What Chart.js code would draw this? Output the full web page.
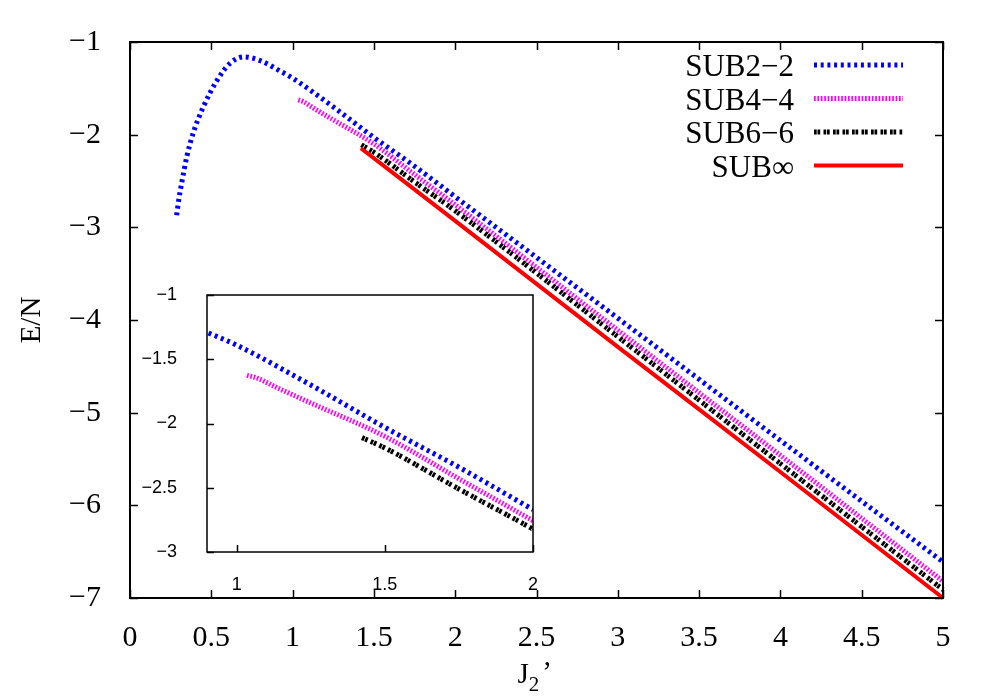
<!DOCTYPE html>
<html>
<head>
<meta charset="utf-8">
<script src="https://cdn.jsdelivr.net/npm/chart.js@4.4.1/dist/chart.umd.min.js"></script>
<style>
    body { margin: 0; background: #fff; }
    #contenedor { position: relative; width: 1000px; height: 700px; }
    #contenedor canvas { position: absolute; left: 0; top: 0; }
</style>
</head>
<body>
<div id="contenedor">
    <canvas id="graficoPrincipal" width="1000" height="700"></canvas>
    <canvas id="graficoInset" width="1000" height="700"></canvas>
</div>
<script>
// ticks
var ticksX = [0, 0.5, 1, 1.5, 2, 2.5, 3, 3.5, 4, 4.5, 5];
var ticksY = [-7, -6, -5, -4, -3, -2, -1];
var ticksXInset = [1, 1.5, 2];
var ticksYInset = [-3, -2.5, -2, -1.5, -1];

var etiquetas = ['SUB2\u22122', 'SUB4\u22124', 'SUB6\u22126', 'SUB\u221e'];

// valores (J2', E/N)
var j22 = [0.287, 0.30, 0.318, 0.349, 0.389, 0.451, 0.533, 0.615, 0.70, 0.80, 0.92, 1.0, 1.25, 1.5, 1.75, 2.0, 3.0, 4.0, 5.0];
var e22 = [-2.87, -2.70, -2.52, -2.24, -1.98, -1.70, -1.42, -1.23, -1.16, -1.20, -1.31, -1.39, -1.70, -2.03, -2.34, -2.67, -3.98, -5.30, -6.61];
var j44 = [1.035, 1.068, 1.135, 1.25, 1.5, 1.75, 2.0, 3.0, 4.0, 5.0];
var e44 = [-1.625, -1.646, -1.72, -1.84, -2.10, -2.43, -2.757, -4.11, -5.46, -6.82];
var j66 = [1.423, 1.5, 1.75, 2.0, 3.0, 4.0, 5.0];
var e66 = [-2.11, -2.19, -2.51, -2.822, -4.18, -5.55, -6.91];
var jInf = [1.42, 2.0, 3.0, 4.0, 5.0];
var eInf = [-2.147, -2.93, -4.29, -5.64, -7.0];

var estilos = [
    { color: '#0000ff', dash: [3, 3.7], ancho: 5, orden: 3 },
    { color: '#ff00ff', dash: [1.7, 1.7], ancho: 5, orden: 2 },
    { color: '#000000', dash: [2.7, 0.8, 2.7, 3.3], ancho: 5, orden: 1 },
    { color: '#ff0000', dash: [], ancho: 4, orden: 0 }
];

function puntos(xs, ys) {
    return xs.map(function (x, i) { return { x: x, y: ys[i] }; });
}

function serie(i, xs, ys, clip) {
    var e = estilos[i];
    return {
        label: etiquetas[i],
        data: puntos(xs, ys),
        borderColor: e.color,
        borderWidth: e.ancho,
        borderDash: e.dash,
        borderCapStyle: 'butt',
        cubicInterpolationMode: 'monotone',
        pointRadius: 0,
        fill: false,
        order: e.orden,
        clip: clip
    };
}

function formato(v) {
    return String(v).replace('-', '\u2212');
}

// marco y ticks hacia adentro
var marcoPlugin = {
    id: 'marco',
    beforeDraw: function (chart, args, opts) {
        if (!opts.fondo) return;
        var a = chart.chartArea, ctx = chart.ctx;
        ctx.save();
        ctx.fillStyle = '#fff';
        ctx.fillRect(a.left, a.top, a.right - a.left, a.bottom - a.top);
        ctx.restore();
    },
    afterDraw: function (chart, args, opts) {
        var ctx = chart.ctx, a = chart.chartArea;
        var xs = chart.scales.x, ys = chart.scales.y;
        ctx.save();
        ctx.strokeStyle = '#000';
        ctx.lineWidth = opts.grosor;
        ctx.strokeRect(a.left, a.top, a.right - a.left, a.bottom - a.top);
        ctx.lineWidth = 1.5;
        ctx.beginPath();
        xs.ticks.forEach(function (t) {
            var px = Math.round(xs.getPixelForValue(t.value)) + 0.5;
            ctx.moveTo(px, a.bottom); ctx.lineTo(px, a.bottom - opts.tick);
            if (opts.espejo) { ctx.moveTo(px, a.top); ctx.lineTo(px, a.top + opts.tick); }
        });
        ys.ticks.forEach(function (t) {
            var py = Math.round(ys.getPixelForValue(t.value)) + 0.5;
            ctx.moveTo(a.left, py); ctx.lineTo(a.left + opts.tick, py);
            if (opts.espejo) { ctx.moveTo(a.right, py); ctx.lineTo(a.right - opts.tick, py); }
        });
        ctx.stroke();
        ctx.restore();
    }
};

var leyendaPlugin = {
    id: 'leyenda',
    afterDraw: function (chart) {
        var ctx = chart.ctx, a = chart.chartArea;
        ctx.save();
        ctx.font = '31px "Liberation Serif"';
        ctx.textAlign = 'right';
        ctx.textBaseline = 'middle';
        chart.data.datasets.forEach(function (ds, i) {
            var y = a.top + 23 + i * 33.5;
            ctx.fillStyle = '#000';
            ctx.fillText(ds.label, a.right - 149, y + 3);
            ctx.strokeStyle = ds.borderColor;
            ctx.lineWidth = ds.borderWidth;
            ctx.lineCap = 'butt';
            ctx.setLineDash(ds.borderDash);
            ctx.beginPath();
            ctx.moveTo(a.right - 129, y);
            ctx.lineTo(a.right - 40, y);
            ctx.stroke();
        });
        ctx.restore();
    }
};

var titulosPlugin = {
    id: 'titulos',
    afterDraw: function (chart) {
        var ctx = chart.ctx, a = chart.chartArea;
        var cx = (a.left + a.right) / 2;
        ctx.save();
        ctx.fillStyle = '#000';
        ctx.font = '29px "Liberation Serif"';
        ctx.textBaseline = 'alphabetic';
        // J2'
        ctx.textAlign = 'left';
        var wJ = ctx.measureText('J').width;
        ctx.fillText('J', cx - 19, 683);
        ctx.font = '21px "Liberation Serif"';
        ctx.fillText('2', cx - 19 + wJ, 691);
        var w2 = ctx.measureText('2').width;
        ctx.font = '29px "Liberation Serif"';
        ctx.fillText('\u2019', cx - 16 + wJ + w2, 681);
        // E/N
        ctx.translate(40, (a.top + a.bottom) / 2);
        ctx.rotate(-Math.PI / 2);
        ctx.textAlign = 'center';
        ctx.fillText('E/N', 0, 0);
        ctx.restore();
    }
};

new Chart(document.getElementById('graficoPrincipal'), {
    type: 'line',
    data: {
        datasets: [
            serie(0, j22, e22, 2),
            serie(1, j44, e44, 2),
            serie(2, j66, e66, 2),
            serie(3, jInf, eInf, 2)
        ]
    },
    options: {
        responsive: false,
        animation: false,
        events: [],
        layout: { padding: { left: 0, top: 42, right: 57, bottom: 0 } },
        plugins: {
            legend: { display: false },
            tooltip: { enabled: false },
            marco: { grosor: 2, tick: 8, espejo: true }
        },
        scales: {
            x: {
                type: 'linear', min: 0, max: 5,
                grid: { display: false }, border: { display: false },
                afterFit: function (s) { s.height = 102; },
                afterBuildTicks: function (s) { s.ticks = ticksX.map(function (v) { return { value: v }; }); },
                ticks: { color: '#000', font: { family: 'Liberation Serif', size: 30 }, padding: 14, maxRotation: 0, autoSkip: false, callback: formato }
            },
            y: {
                type: 'linear', min: -7, max: -1,
                grid: { display: false }, border: { display: false },
                afterFit: function (s) { s.width = 130; },
                afterBuildTicks: function (s) { s.ticks = ticksY.map(function (v) { return { value: v }; }); },
                ticks: { color: '#000', font: { family: 'Liberation Serif', size: 30 }, padding: 21, autoSkip: false, callback: formato }
            }
        }
    },
    plugins: [marcoPlugin, leyendaPlugin, titulosPlugin]
});

// grafico interior
new Chart(document.getElementById('graficoInset'), {
    type: 'line',
    data: {
        datasets: [
            serie(0, j22, e22, 0),
            serie(1, j44, e44, 0),
            serie(2, j66, e66, 0)
        ]
    },
    options: {
        responsive: false,
        animation: false,
        events: [],
        layout: { padding: { left: 0, top: 295, right: 467, bottom: 0 } },
        plugins: {
            legend: { display: false },
            tooltip: { enabled: false },
            marco: { grosor: 1.5, tick: 7, espejo: false, fondo: true }
        },
        scales: {
            x: {
                type: 'linear', min: 0.9, max: 2,
                grid: { display: false }, border: { display: false },
                afterFit: function (s) { s.height = 148; },
                afterBuildTicks: function (s) { s.ticks = ticksXInset.map(function (v) { return { value: v }; }); },
                ticks: { color: '#000', font: { family: 'Liberation Sans', size: 18 }, padding: 14, maxRotation: 0, autoSkip: false, callback: formato }
            },
            y: {
                type: 'linear', min: -3, max: -1,
                grid: { display: false }, border: { display: false },
                afterFit: function (s) { s.width = 207; },
                afterBuildTicks: function (s) { s.ticks = ticksYInset.map(function (v) { return { value: v }; }); },
                ticks: { color: '#000', font: { family: 'Liberation Sans', size: 18 }, padding: 22, autoSkip: false, callback: formato }
            }
        }
    },
    plugins: [marcoPlugin]
});
</script>
</body>
</html>
